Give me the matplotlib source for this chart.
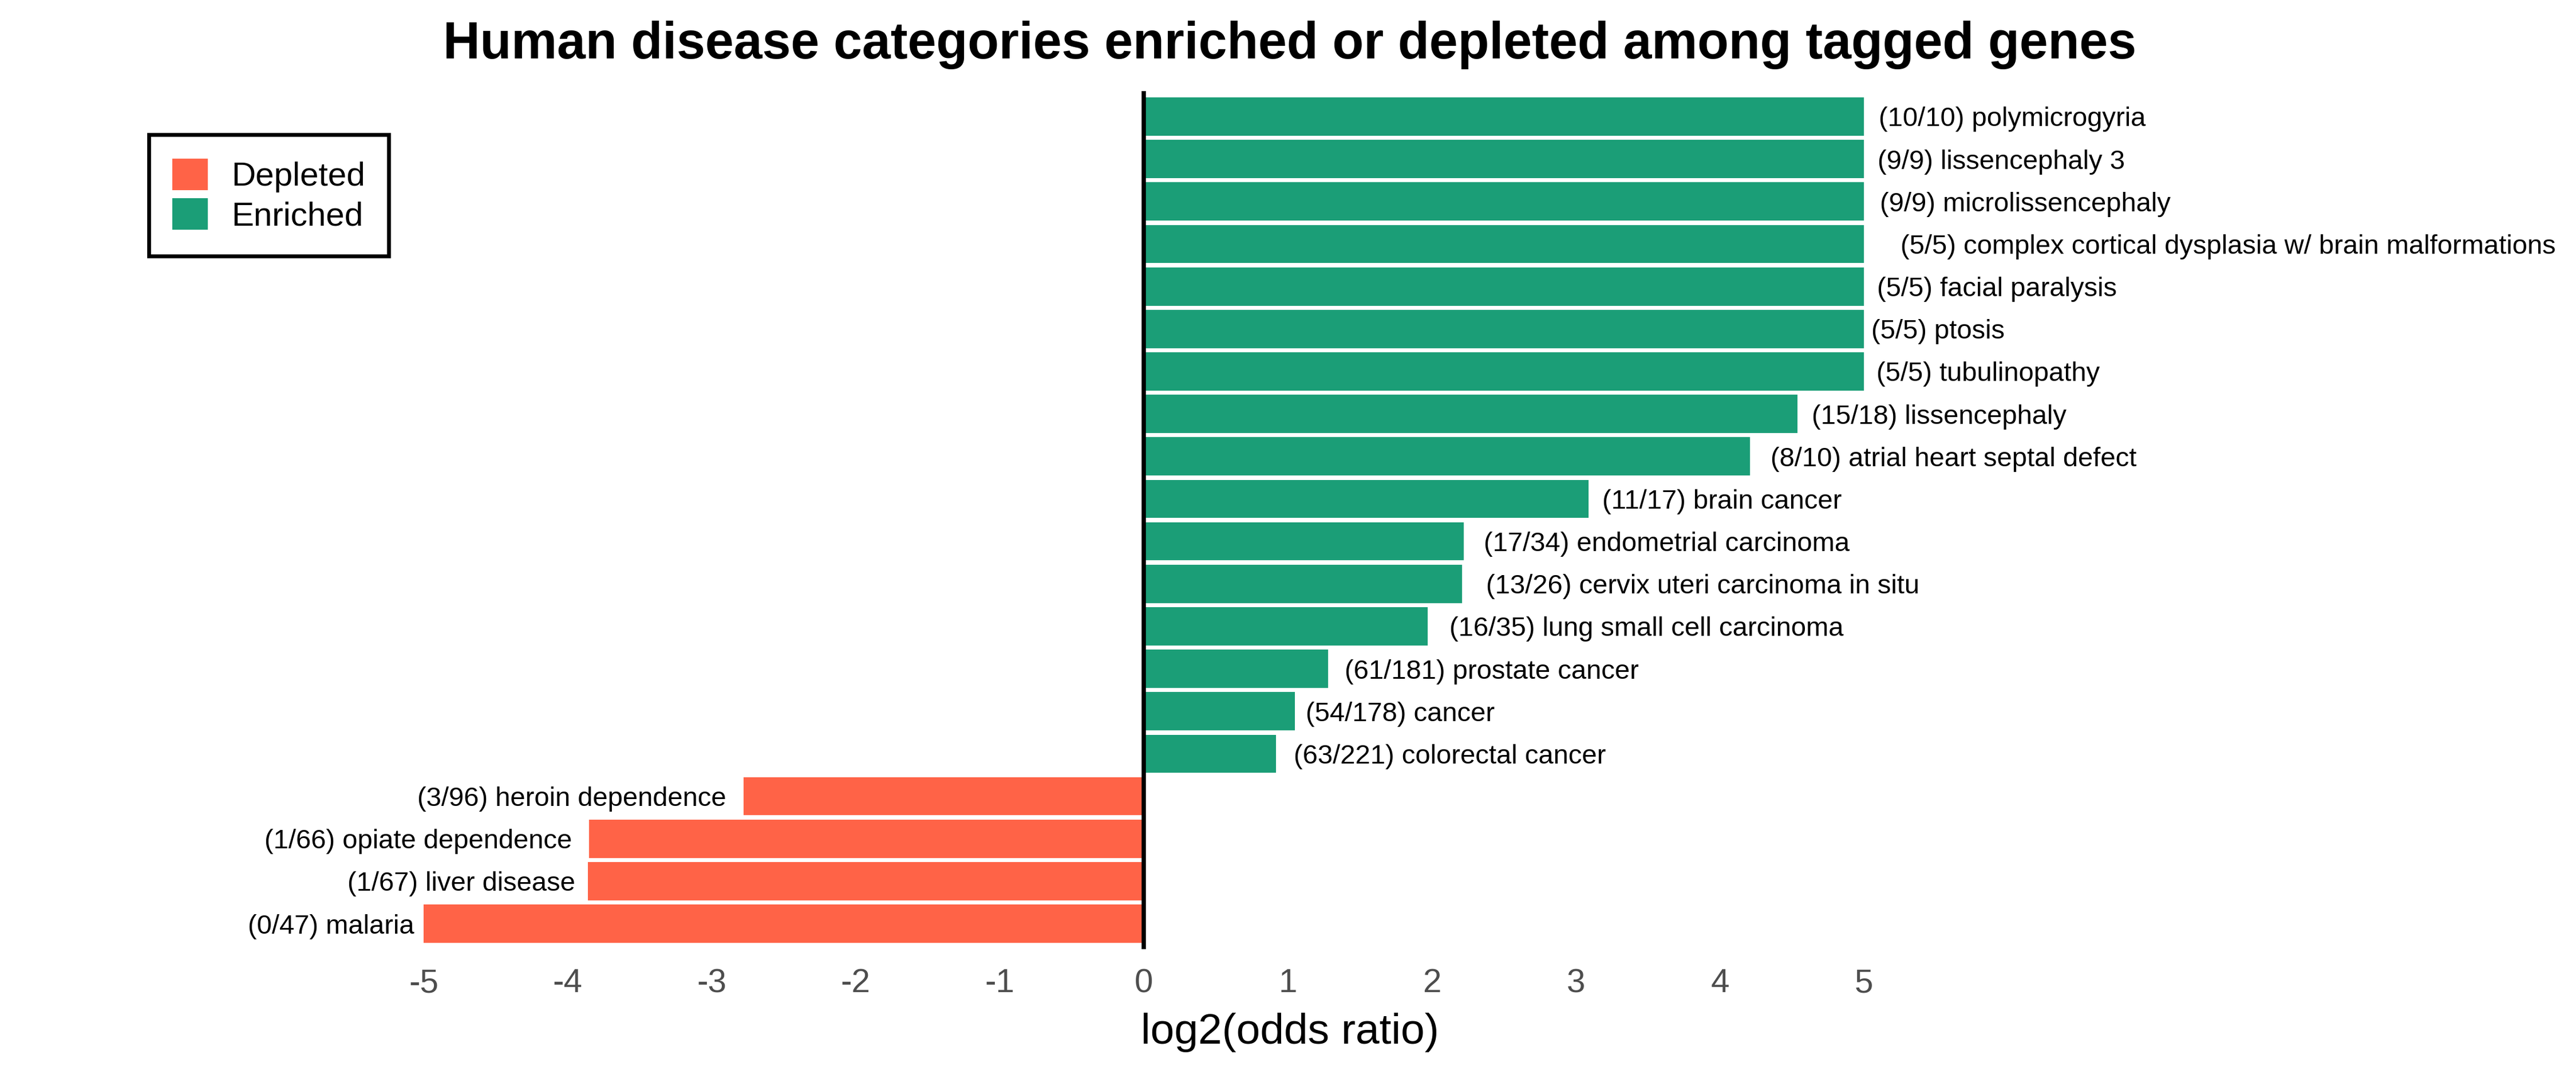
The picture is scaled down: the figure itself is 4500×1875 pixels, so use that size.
import matplotlib
matplotlib.use("Agg")
import matplotlib.pyplot as plt
from matplotlib.patches import Patch
import matplotlib.transforms as mtransforms

plt.rcParams['font.family'] = ['Liberation Sans', 'DejaVu Sans']

# ---------------- data (top to bottom) ----------------
diseases = [
    "polymicrogyria", "lissencephaly 3", "microlissencephaly",
    "complex cortical dysplasia w/ brain malformations", "facial paralysis",
    "ptosis", "tubulinopathy", "lissencephaly", "atrial heart septal defect",
    "brain cancer", "endometrial carcinoma", "cervix uteri carcinoma in situ",
    "lung small cell carcinoma", "prostate cancer", "cancer", "colorectal cancer",
    "heroin dependence", "opiate dependence", "liver disease", "malaria",
]
counts = [
    "10/10", "9/9", "9/9", "5/5", "5/5", "5/5", "5/5", "15/18", "8/10",
    "11/17", "17/34", "13/26", "16/35", "61/181", "54/178", "63/221",
    "3/96", "1/66", "1/67", "0/47",
]
log2_or = [
    5.0, 5.0, 5.0, 5.0, 5.0, 5.0, 5.0, 4.54, 4.21,
    3.09, 2.22, 2.21, 1.97, 1.28, 1.05, 0.92,
    -2.78, -3.85, -3.86, -5.0,
]
direction = ["Enriched"] * 16 + ["Depleted"] * 4
colors = {"Depleted": "#FF6347", "Enriched": "#1B9E77"}
x_ticks = [-5, -4, -3, -2, -1, 0, 1, 2, 3, 4, 5]

# ---------------- figure ----------------
W, H = 4500, 1875
fig = plt.figure(figsize=(15, 6.25), dpi=300)
panel_top, panel_bot = 159, 1657
ax = fig.add_axes([0, 1 - panel_bot / H, 1, (panel_bot - panel_top) / H])

x0_px, unit_px = 1998, 251.6
ax.set_xlim(-x0_px / unit_px, (W - x0_px) / unit_px)
n = len(diseases)
ax.set_ylim(n - 1 + 0.6, -0.6)

ypos = list(range(n))
ax.barh(ypos, log2_or, height=0.9,
        color=[colors[d] for d in direction], edgecolor='none', zorder=2)
ax.axvline(0, color='black', lw=1.8, zorder=3)

# bar labels
fig.canvas.draw()
renderer = fig.canvas.get_renderer()
for y, v, c, d in zip(ypos, log2_or, counts, diseases):
    lab = f"({c}) {d}"
    ha = 'left' if v >= 0 else 'right'
    t = ax.text(v, y, lab, ha=ha, va='center_baseline', fontsize=11.3, color='black', zorder=4)
    w = t.get_window_extent(renderer).width
    dx = 0.056 * w * (1 if v >= 0 else -1)
    t.set_transform(mtransforms.offset_copy(ax.transData, fig=fig, x=dx, y=0, units='dots'))

# axes styling
for s in ax.spines.values():
    s.set_visible(False)
ax.set_xticks(x_ticks)
ax.set_xticklabels([str(t) for t in x_ticks])
ax.tick_params(axis='x', length=0, pad=8.0, labelsize=14, labelcolor='#4D4D4D')
ax.tick_params(axis='y', left=False, labelleft=False)
ax.set_facecolor('white')

# x label and title
fig.text(2253 / W, 1 - 1822 / H, "log2(odds ratio)", ha='center', va='baseline', fontsize=18)
fig.text(2253 / W, 1 - 102 / H, "Human disease categories enriched or depleted among tagged genes",
         ha='center', va='baseline', fontsize=21.5, fontweight='bold')

# legend
handles = [Patch(facecolor=colors["Depleted"], edgecolor='none', label="Depleted"),
           Patch(facecolor=colors["Enriched"], edgecolor='none', label="Enriched")]
leg = fig.legend(handles=handles, loc='upper left',
                 bbox_to_anchor=(259.5 / W, 1 - 235.5 / H), bbox_transform=fig.transFigure,
                 borderaxespad=0, fontsize=14, handlelength=1.063, handleheight=1.063,
                 handletextpad=0.7, borderpad=0.71, labelspacing=0.17,
                 fancybox=False, framealpha=1, edgecolor='black')
leg.get_frame().set_linewidth(1.6)

fig.savefig("out.png", dpi=300, facecolor='white')
